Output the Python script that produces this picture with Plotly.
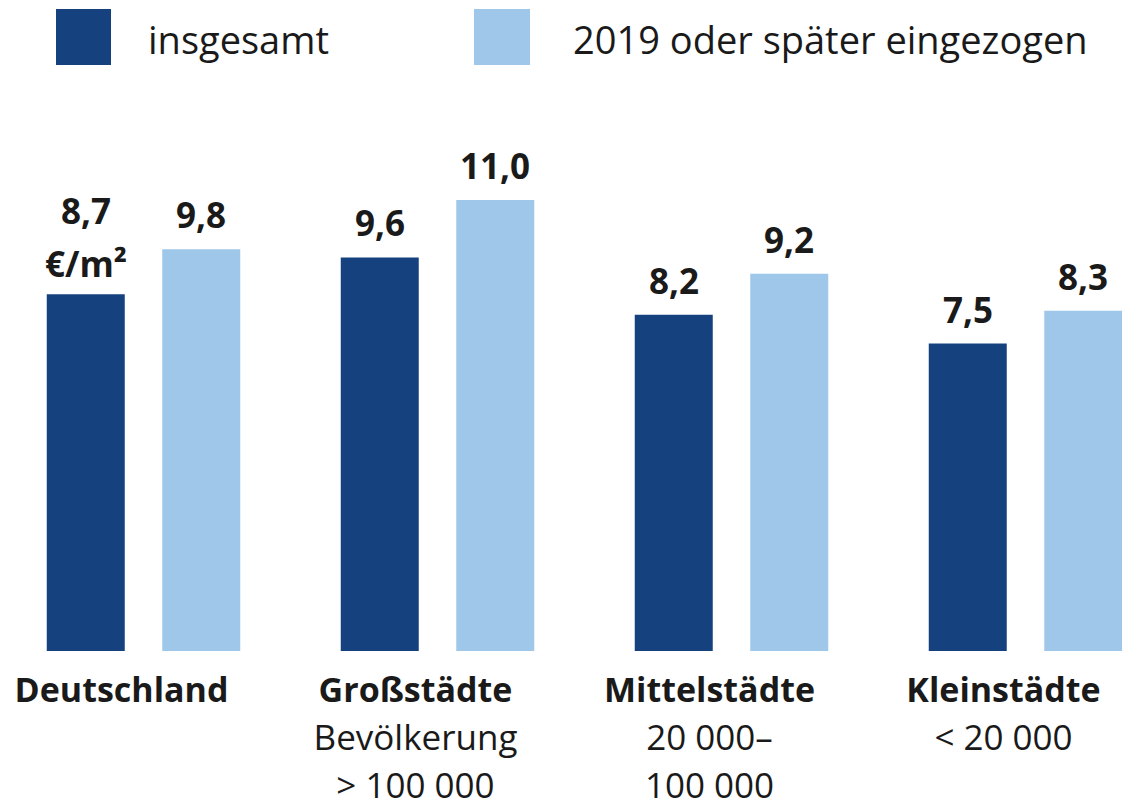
import plotly.graph_objects as go

# ---- data ----
categories = ["Deutschland", "Großstädte", "Mittelstädte", "Kleinstädte"]
sublabels = [[], ["Bevölkerung", "&gt; 100 000"], ["20 000–", "100 000"], ["&lt; 20 000"]]
series_names = ["insgesamt", "2019 oder später eingezogen"]
insgesamt = [8.7, 9.6, 8.2, 7.5]
ab_2019 = [9.8, 11.0, 9.2, 8.3]
unit_label = "€/m²"

# ---- style ----
colors = ["#15427f", "#9fc7ea"]
font_family = "Open Sans"
text_color = "#1a1a1a"
PAGE_OFF = 8                      # default body margin of the html page
W, H = 1130 - PAGE_OFF, 810 - PAGE_OFF
base_ref = 651                    # bar baseline in page pixels
top_ref = 100                     # top of plot area in page pixels
m_top = top_ref - PAGE_OFF
m_bot = H - (base_ref - PAGE_OFF)
bargap = 0.2143
bargroupgap = 0.3247
plot_h = H - m_top - m_bot

series_values = [insgesamt, ab_2019]

fig = go.Figure()
for name, vals, col in zip(series_names, series_values, colors):
    fig.add_trace(go.Bar(
        x=categories, y=vals, name=name,
        marker=dict(color=col, line=dict(width=0)),
        hoverinfo="skip", showlegend=False,
    ))

# value labels
annotations = []
half = (1 - bargap) / 4
for j, vals in enumerate(series_values):
    off = half * (2 * j - 1)
    for i, v in enumerate(vals):
        txt = f"{v:.1f}".replace(".", ",")
        extra = 49 if (i == 0 and j == 0) else 0
        annotations.append(dict(
            x=i + off, y=v, xref="x", yref="y",
            text=f"<b>{txt}</b>", showarrow=False,
            xanchor="center", yanchor="bottom", yshift=9 + extra,
            font=dict(family=font_family, size=35, color=text_color),
        ))
# unit label above first bar
annotations.append(dict(
    x=0 - half, y=insgesamt[0], xref="x", yref="y",
    text=f"<b>{unit_label}</b>", showarrow=False,
    xanchor="center", yanchor="bottom", yshift=5,
    font=dict(family=font_family, size=35, color=text_color),
))

# custom legend (large squares), page pixel positions
legend_box_px = [(56, 111), (474, 530)]
legend_text_px = [146, 571]
box_top_px, box_bot_px = 9, 65

def px2paper_x(px):
    return (px - PAGE_OFF) / W

def py2paper(py):
    return (base_ref - py) / plot_h

shapes = []
for (x0, x1), tx, name, col in zip(legend_box_px, legend_text_px, series_names, colors):
    shapes.append(dict(
        type="rect", xref="paper", yref="paper",
        x0=px2paper_x(x0), x1=px2paper_x(x1),
        y0=py2paper(box_bot_px), y1=py2paper(box_top_px),
        fillcolor=col, line=dict(width=0),
    ))
    annotations.append(dict(
        x=px2paper_x(tx), y=py2paper((box_top_px + box_bot_px) / 2 + 2),
        xref="paper", yref="paper",
        text=name, showarrow=False, xanchor="left", yanchor="middle",
        font=dict(family=font_family, size=38, color=text_color),
    ))

bold_px, reg_px = 34, 35
ticktext = []
for c, subs in zip(categories, sublabels):
    lines = [f'<span style="font-size:{bold_px}px"><b>{c}</b></span>']
    lines += [f'<span style="font-size:{reg_px}px">{s}</span>' for s in subs]
    ticktext.append("<br>".join(lines))

# x range so that groups sit at the reference spacing
group_px0, group_step = 143.5 - PAGE_OFF, 294.0
x_range = [-group_px0 / group_step, (W - group_px0) / group_step]
px_per_unit = 41.0

fig.update_layout(
    width=W, height=H,
    margin=dict(l=0, r=0, t=m_top, b=m_bot, pad=0, autoexpand=False),
    paper_bgcolor="white", plot_bgcolor="white",
    barmode="group", bargap=bargap, bargroupgap=bargroupgap,
    xaxis=dict(
        type="category", range=x_range, tickmode="array",
        tickvals=categories, ticktext=ticktext,
        showgrid=False, zeroline=False, showline=False, ticks="",
        tickfont=dict(family=font_family, size=37, color=text_color),
        ticklabelstandoff=13, ticklabelshift=-22,
        automargin=False, fixedrange=True,
    ),
    yaxis=dict(range=[0, plot_h / px_per_unit], visible=False,
               automargin=False, fixedrange=True),
    annotations=annotations,
    shapes=shapes,
    font=dict(family=font_family, color=text_color),
)

fig.write_html("out.html", config={"displayModeBar": False})
